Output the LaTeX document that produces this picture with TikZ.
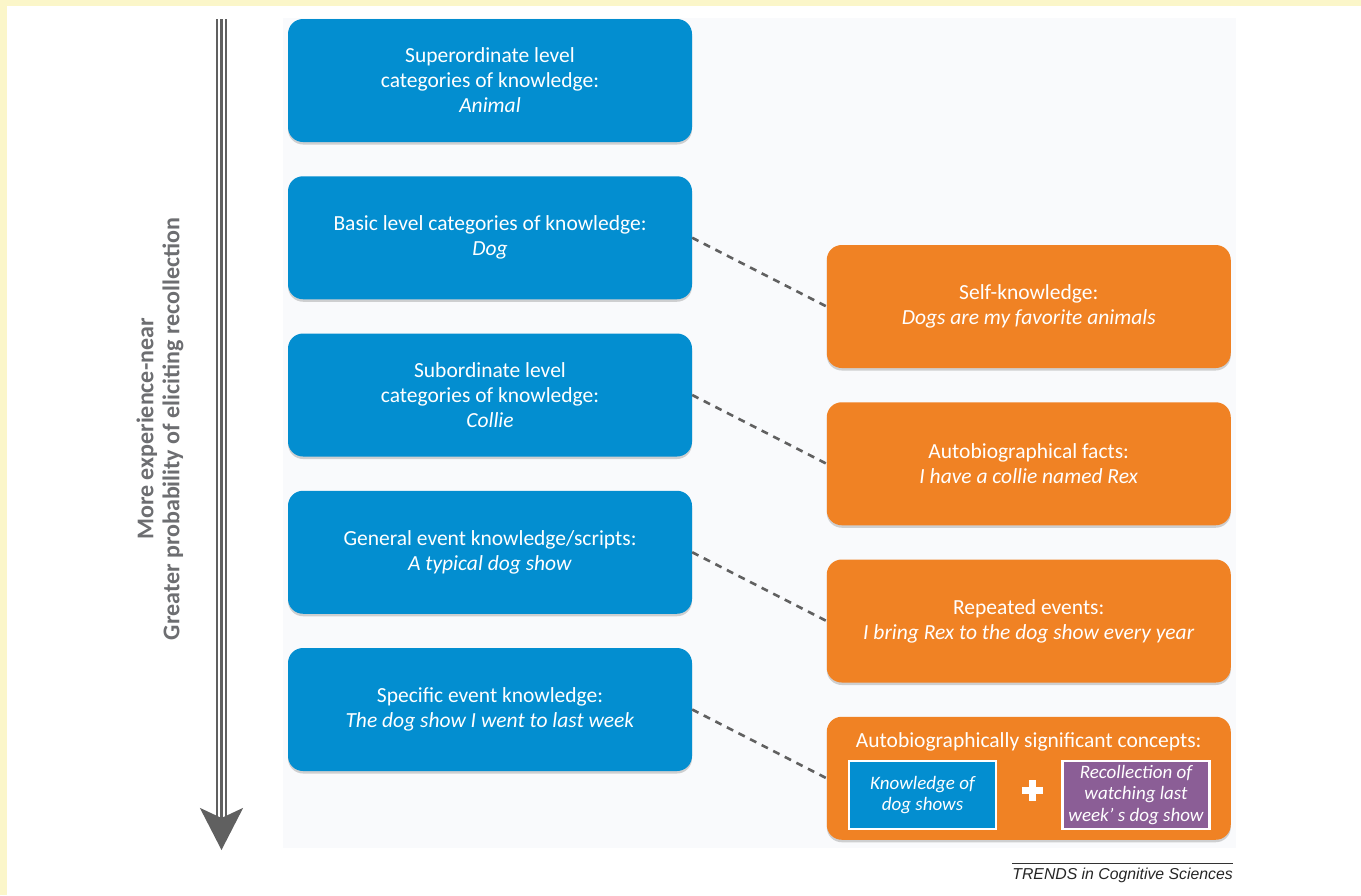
\documentclass[tikz,border=0pt]{standalone}
\usepackage{fontspec}
\setmainfont{Carlito}
\newfontfamily\trendsfont{Liberation Sans}
\usetikzlibrary{arrows.meta,shadows}

\definecolor{boxblue}{HTML}{038ED0}
\definecolor{boxorange}{HTML}{F08224}
\definecolor{boxpurple}{HTML}{8B5E96}
\definecolor{panelgray}{HTML}{F9FAFC}
\definecolor{borderyellow}{HTML}{FBF6C9}
\definecolor{arrowgray}{HTML}{606060}
\definecolor{labelgray}{HTML}{6D6E71}

\begin{document}
\begin{tikzpicture}[x=1pt,y=-1pt]
\tikzstyle{every node}=[inner sep=0pt,font=\fontsize{21.5}{25}\selectfont];
\tikzstyle{bluebox}=[fill=boxblue,rounded corners=15pt,minimum width=404pt,minimum height=123pt,text=white,align=center,drop shadow={opacity=0.35,shadow xshift=0pt,shadow yshift=-2.5pt}];
\tikzstyle{orangebox}=[bluebox,fill=boxorange];
\tikzstyle{innerbox}=[draw=white,line width=2.5pt,minimum width=147pt,minimum height=68pt,text=white,align=center,font=\itshape\fontsize{19}{21.7}\selectfont];
\tikzstyle{link}=[draw=arrowgray,line width=2.6pt,dash pattern=on 7pt off 6pt];
\useasboundingbox (0,0) rectangle (1361,895);
\fill[borderyellow] (0,0) rectangle (1361,895);
\fill[white] (7,6) rectangle (1361,895);
\fill[panelgray] (283,18) rectangle (1236,848);

% axis arrow
\draw[arrowgray,line width=2.7pt] (217,19) -- (217,816);
\draw[arrowgray,line width=2.7pt] (226,19) -- (226,816);
\draw[arrowgray,line width=2.7pt,-{Stealth[length=42pt,width=43pt,inset=10pt]}] (221.5,19) -- (221.5,850);
\node[rotate=90,text=labelgray,align=center,font=\bfseries\fontsize{24}{26}\selectfont] (axis) at (160,429)
  {More experience-near\\Greater probability of eliciting recollection};

% knowledge levels
\node[bluebox] (super) at (490,80.5) {Superordinate level\\categories of knowledge:\\\textit{Animal}};
\node[bluebox] (basic) at (490,237.75) {Basic level categories of knowledge:\\\textit{Dog}};
\node[bluebox] (sub) at (490,395) {Subordinate level\\categories of knowledge:\\\textit{Collie}};
\node[bluebox] (general) at (490,552.25) {General event knowledge/scripts:\\\textit{A typical dog show}};
\node[bluebox] (specific) at (490,709.5) {Specific event knowledge:\\\textit{The dog show I went to last week}};

% autobiographical side
\node[orangebox] (self) at (1028.75,306.5) {Self-knowledge:\\\textit{Dogs are my favorite animals}};
\node[orangebox] (facts) at (1028.75,463.75) {Autobiographical facts:\\\textit{I have a collie named Rex}};
\node[orangebox] (repeated) at (1028.75,621) {Repeated events:\\\textit{I bring Rex to the dog show every year}};
\node[orangebox] (concepts) at (1028.75,778.25) {};
\node[text=white] (conceptstitle) at (1028.75,742) {Autobiographically significant concepts:};
\node[innerbox,fill=boxblue] (knowledge) at (922.5,795) {Knowledge of\\dog shows};
\node[innerbox,fill=boxpurple] (recollection) at (1136,795) {Recollection of\\watching last\\week’ s dog show};
\fill[white] (1021.5,786.5) rectangle (1042.5,793.5);
\fill[white] (1028.5,779.5) rectangle (1035.5,800.5);

\draw[link] (basic.east) -- (self.west);
\draw[link] (sub.east) -- (facts.west);
\draw[link] (general.east) -- (repeated.west);
\draw[link] (specific.east) -- (concepts.west);

\node[anchor=base east,text=black!85,font=\trendsfont\itshape\fontsize{15.8}{18}\selectfont] (trends) at (1233,879) {TRENDS in Cognitive Sciences};
\draw[black!80,line width=0.8pt] ([yshift=4pt]trends.north west) -- ([yshift=4pt]trends.north east);
\end{tikzpicture}
\end{document}
